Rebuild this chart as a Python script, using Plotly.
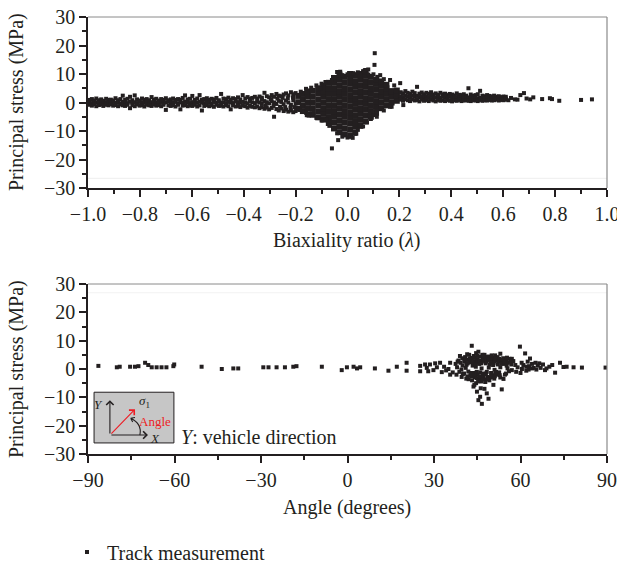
import plotly.graph_objects as go

# ================= TOP PANEL: principal stress vs biaxiality ratio =================
# dense band on the left (lambda -1.0 .. -0.2): three rows of points
lam_band = [-0.995, -0.985, -0.976, -0.968, -0.958, -0.949, -0.941, -0.930, -0.921, -0.912,
            -0.903, -0.894, -0.884, -0.875, -0.866, -0.857, -0.848, -0.838, -0.829, -0.820,
            -0.811, -0.801, -0.792, -0.783, -0.774, -0.764, -0.755, -0.746, -0.737, -0.727,
            -0.718, -0.709, -0.700, -0.690, -0.681, -0.672, -0.663, -0.653, -0.644, -0.635,
            -0.626, -0.616, -0.607, -0.598, -0.589, -0.579, -0.570, -0.561, -0.552, -0.542,
            -0.533, -0.524, -0.515, -0.505, -0.496, -0.487, -0.478, -0.468, -0.459, -0.450,
            -0.441, -0.431, -0.422, -0.413, -0.404, -0.394, -0.385, -0.376, -0.367, -0.357,
            -0.348, -0.339, -0.330, -0.320, -0.311, -0.302, -0.292, -0.283, -0.274, -0.265,
            -0.255, -0.246, -0.237, -0.228, -0.218, -0.209, -0.200]
sig_band_hi = [0.9, 1.2, 0.7, 1.4, 0.8, 1.1, 0.6, 1.3, 0.9, 1.0,
               0.7, 1.5, 0.8, 1.2, 2.4, 0.9, 1.3, 2.0, 0.8, 2.5,
               1.1, 0.7, 1.4, 0.9, 1.2, 0.8, 1.9, 1.0, 1.3, 0.7,
               1.2, 0.9, 1.5, 0.8, 1.1, 1.4, 0.9, 1.2, 1.0, 1.6,
               2.5, 1.1, 1.3, 2.3, 0.9, 1.4, 2.6, 1.0, 1.2, 1.5,
               0.9, 1.3, 1.1, 1.6, 0.8, 3.0, 1.4, 1.2, 1.7, 1.0,
               1.5, 1.2, 1.8, 1.1, 2.6, 1.4, 1.9, 1.3, 1.6, 2.0,
               1.4, 2.1, 1.7, 3.4, 2.2, 1.8, 2.6, 2.0, 3.0, 2.4,
               2.2, 2.8, 3.2, 2.5, 3.6, 2.9, 3.3]
sig_band_mid = [0.1, -0.2, 0.3, 0.0, -0.1, 0.2, -0.3, 0.1, 0.0, -0.2,
                0.2, -0.1, 0.1, -0.3, 0.2, 0.0, -0.2, 0.3, -0.1, 0.1,
                -0.2, 0.2, 0.0, -0.1, 0.3, -0.3, 0.1, 0.2, -0.1, 0.0,
                0.2, -0.2, 0.1, 0.3, -0.1, 0.0, 0.2, -0.3, 0.1, -0.1,
                0.3, 0.0, -0.2, 0.1, 0.2, -0.1, 0.3, 0.0, -0.2, 0.2,
                0.1, -0.3, 0.2, 0.0, 0.3, -0.1, 0.1, -0.2, 0.2, 0.0,
                -0.2, 0.3, 0.1, -0.1, 0.2, 0.0, -0.3, 0.4, 0.1, -0.2,
                0.3, 0.0, -0.4, 0.5, 0.1, -0.3, 0.4, 0.0, -0.5, 0.6,
                0.2, -0.6, 0.7, 0.0, -0.8, 0.8, -0.4]
sig_band_lo = [-0.8, -1.1, -0.6, -1.3, -0.9, -0.7, -1.2, -0.8, -1.0, -0.6,
               -1.1, -0.9, -1.3, -0.7, -1.0, -1.2, -0.8, -2.0, -0.9, -1.3,
               -0.7, -1.1, -0.9, -1.4, -0.8, -1.0, -1.2, -0.7, -1.1, -0.9,
               -1.3, -0.8, -2.6, -1.0, -1.2, -0.9, -1.4, -0.8, -2.4, -1.1,
               -0.9, -1.3, -1.0, -1.2, -0.8, -1.4, -1.0, -2.8, -1.2, -0.9,
               -1.3, -1.0, -1.5, -0.8, -1.2, -1.1, -1.4, -0.9, -1.3, -2.4,
               -1.0, -1.4, -1.2, -1.6, -1.1, -1.3, -1.8, -1.2, -1.5, -1.7,
               -1.4, -2.0, -1.6, -2.2, -1.8, -2.4, -1.9, -5.0, -2.3, -2.8,
               -2.1, -3.0, -2.5, -3.2, -2.8, -3.4, -3.0]
lam_fill = [-0.330, -0.315, -0.295, -0.285, -0.270, -0.260, -0.250, -0.240, -0.230, -0.220, -0.210, -0.205]
sig_fill = [1.0, -1.0, 1.2, -1.2, 1.4, -1.5, 1.6, -1.6, 1.5, -1.8, 1.7, -1.6]

# central dense cloud (lambda -0.2 .. 0.2), read column by column
core_lam = [-0.190, -0.172, -0.153, -0.134, -0.113, -0.093, -0.072, -0.052, -0.031, -0.011,
            0.010, 0.030, 0.050, 0.070, 0.090, 0.110, 0.130, 0.150, 0.170, 0.190]
core_sig = [[-2.2, 0.1, 2.3],
            [-3.0, -1.0, 1.1, 3.0],
            [-4.1, -2.0, 0.0, 2.1, 3.9],
            [-4.3, -2.2, -0.1, 2.0, 4.1],
            [-5.2, -3.1, -1.0, 1.0, 3.1, 5.0],
            [-6.0, -4.0, -2.0, 0.0, 2.0, 4.0, 5.8],
            [-7.2, -5.1, -3.0, -1.0, 1.0, 3.0, 5.0, 6.9],
            [-9.1, -7.0, -5.0, -3.0, -1.0, 1.0, 3.0, 5.0, 7.0, 8.6],
            [-10.4, -8.3, -6.2, -4.1, -2.0, 0.0, 2.0, 4.0, 6.0, 8.0, 9.8],
            [-11.2, -9.1, -7.0, -5.0, -3.0, -1.0, 1.0, 3.0, 5.0, 7.0, 9.0],
            [-11.6, -9.5, -7.4, -5.4, -3.4, -1.4, 0.6, 2.6, 4.6, 6.6, 8.6, 10.0],
            [-10.6, -8.5, -6.5, -4.5, -2.5, -0.5, 1.5, 3.5, 5.5, 7.5, 9.6],
            [-8.2, -6.1, -4.0, -2.0, 0.0, 2.0, 4.0, 6.0, 8.0, 10.0],
            [-6.6, -4.5, -2.5, -0.5, 1.5, 3.5, 5.5, 7.5, 9.5, 10.8],
            [-5.0, -3.0, -1.0, 1.0, 3.0, 5.0, 7.0, 9.0],
            [-3.6, -1.5, 0.5, 2.5, 4.5, 6.5, 8.0],
            [-2.0, 0.0, 2.0, 4.0, 6.0, 7.4],
            [-1.0, 1.0, 3.0, 5.0, 6.2],
            [0.0, 2.0, 4.0],
            [0.6, 2.6, 4.2]]

# ragged edge and outliers of the central cloud
lam_edge = [-0.18, -0.16, -0.14, -0.12, -0.105, -0.10, -0.085, -0.06, -0.05, -0.04,
            -0.028, -0.02, 0.0, 0.022, 0.04, 0.06, 0.068, 0.08, 0.105, 0.104,
            0.10, 0.115, 0.126, 0.14, 0.164, 0.18, 0.203, 0.08,
            -0.183, -0.16, -0.132, -0.12, -0.10, -0.08, -0.07, -0.055, -0.04, -0.06,
            -0.036, -0.02, 0.0, 0.01, 0.02, 0.03, 0.04, 0.049, 0.06, 0.075,
            0.09, 0.10, 0.113, 0.126, 0.14, 0.17, 0.164, 0.215, 0.11, -0.15]
sig_edge = [3.8, 4.8, 5.2, 6.0, 5.0, 6.6, 7.2, 7.9, 8.8, 10.7,
            10.8, 9.6, 9.9, 10.3, 10.6, 11.0, 11.4, 11.6, 17.3, 13.2,
            9.9, 9.0, 9.6, 8.2, 7.9, 6.0, 6.8, 9.8,
            -2.6, -3.6, -3.7, -5.4, -6.3, -6.1, -8.2, -9.0, -10.8, -16.1,
            -13.2, -12.0, -12.3, -12.0, -12.4, -11.0, -9.6, -7.9, -8.4, -7.0,
            -5.8, -4.4, -5.0, -2.0, -2.8, -1.5, -1.5, -0.9, -3.0, -4.6]

# right tail (lambda 0.2 .. 0.62): three rows
lam_tail = [0.205, 0.214, 0.223, 0.232, 0.241, 0.250, 0.259, 0.268, 0.277, 0.286,
            0.295, 0.304, 0.313, 0.322, 0.331, 0.340, 0.349, 0.358, 0.367, 0.376,
            0.385, 0.394, 0.403, 0.412, 0.421, 0.430, 0.439, 0.448, 0.457, 0.466,
            0.475, 0.484, 0.493, 0.502, 0.511, 0.520, 0.529, 0.538, 0.547, 0.556,
            0.565, 0.574, 0.583, 0.592, 0.601, 0.610]
sig_tail_hi = [3.6, 3.2, 4.0, 3.4, 3.0, 3.8, 3.3, 5.5, 3.1, 3.5,
               2.9, 3.4, 3.0, 3.6, 2.8, 3.2, 2.7, 3.4, 2.9, 3.1,
               2.6, 3.0, 2.8, 2.5, 3.2, 2.7, 2.6, 2.9, 2.4, 5.0,
               2.8, 2.3, 2.6, 2.9, 4.1, 2.4, 2.2, 2.6, 2.3, 2.1,
               2.4, 2.0, 2.2, 1.9, 2.1, 2.0]
sig_tail_mid = [2.2, 1.9, 2.5, 2.1, 1.8, 2.4, 2.0, 2.3, 1.9, 2.2,
                1.8, 2.1, 1.7, 2.3, 1.9, 1.8, 2.0, 1.7, 2.1, 1.9,
                1.7, 2.0, 1.6, 1.8, 1.9, 1.7, 1.5, 1.9, 1.6, 1.8,
                1.6, 1.5, 1.7, 1.4, 1.6, 1.5, 1.4, 1.6, 1.5, 1.3,
                1.5, 1.4, 1.6, 1.3, 1.5, 1.4]
sig_tail_lo = [1.0, 0.6, 1.2, 0.8, 0.5, 1.1, 0.7, 0.9, 0.4, 1.0,
               0.6, 0.9, 0.5, 1.0, 0.7, 0.4, 0.9, 0.6, 0.8, 0.5,
               0.9, 0.6, 0.4, 0.8, 0.6, 0.9, 0.5, 0.7, 0.8, 0.6,
               0.5, 0.8, 0.7, 0.5, 0.9, 0.6, 0.8, 0.7, 0.9, 0.7,
               0.8, 1.0, 0.7, 0.9, 0.8, 1.0]
lam_far = [0.62, 0.63, 0.645, 0.655, 0.666, 0.68, 0.69, 0.704, 0.716, 0.75, 0.78, 0.788, 0.816, 0.90, 0.942]
sig_far = [0.8, 1.6, 1.1, 1.0, 2.6, 3.3, 1.4, 1.1, 1.8, 1.2, 1.5, 1.2, 0.6, 0.9, 1.1]

# ================= BOTTOM PANEL: principal stress vs angle =================
ang_left = [-86.4, -80.0, -79.0, -75.4, -73.7, -72.5, -70.2, -69.1, -67.9, -66.2,
            -64.5, -62.8, -60.4, -60.1, -50.6, -43.6, -39.6, -37.9, -29.2, -27.4,
            -24.6, -21.7, -18.8, -17.7, -8.9, -2.0, -0.2, 2.1, 3.3, 4.4,
            9.5, 14.2, 17.1, 20.5, 20.5]
sig_left = [1.1, 0.6, 0.8, 0.8, 0.8, 1.0, 2.2, 1.4, 0.6, 0.6,
            0.6, 0.6, 1.0, 1.6, 0.8, 0.0, 0.2, 0.2, 0.6, 0.6,
            0.6, 0.6, 0.8, 1.0, 0.8, -0.4, 0.6, 0.8, 0.2, 0.6,
            0.2, -0.6, 0.8, 2.2, -0.6]
ang_near = [25.2, 25.2, 26.9, 27.5, 28.0, 28.6, 29.8, 30.4, 31.0, 32.1, 32.7, 33.5, 34.2, 35.0, 35.6, 35.6]
sig_near = [1.1, -0.8, 1.6, 0.4, -0.8, 1.6, -0.4, 2.0, 0.6, 2.2, -1.1, 0.8, -0.5, 0.0, 2.2, -2.0]
ang_blob_up = [37.5, 38.5, 39.2, 39.8, 40.5, 40.8, 41.3, 41.8, 42.2, 42.5,
               43.0, 43.1, 43.4, 43.8, 44.1, 44.6, 45.0, 45.4, 45.7, 46.1,
               46.6, 47.0, 47.5, 47.9, 48.4, 48.8, 49.3, 49.8, 50.2, 50.7,
               51.2, 51.6, 52.1, 52.6, 53.0, 53.5, 54.0, 54.5, 55.0, 55.6,
               56.2, 56.8, 57.5, 58.2,
               39.0, 41.5, 42.8, 44.0, 45.2, 46.8, 47.2, 48.0, 49.5, 50.0,
               51.0, 52.0, 53.8, 55.3, 56.5, 57.0]
sig_blob_up = [1.8, 3.0, 2.2, 3.8, 2.6, 4.2, 1.5, 3.2, 5.0, 2.4,
               3.9, 8.2, 1.2, 4.6, 2.8, 5.6, 3.4, 6.1, 1.8, 4.4,
               2.6, 3.6, 5.0, 2.0, 3.2, 4.4, 1.6, 2.8, 3.9, 2.2,
               4.8, 3.0, 1.6, 3.6, 5.4, 2.5, 3.8, 1.8, 3.0, 2.2,
               3.6, 1.6, 2.8, 1.4,
               4.6, 5.2, 3.0, 4.0, 2.2, 5.0, 3.0, 4.2, 3.6, 4.8,
               2.8, 4.2, 3.2, 4.0, 2.6, 3.6]
ang_blob_mid = [38.0, 39.5, 41.0, 44.5, 46.5, 49.0, 51.0, 53.0, 55.5, 57.0, 59.0, 60.5, 62.0, 64.0]
sig_blob_mid = [0.6, -0.2, 0.4, 0.8, 0.2, 0.5, -0.3, 0.6, 0.2, -0.4, 0.6, 0.0, 0.8, 0.2]
ang_blob_lo = [36.5, 37.8, 38.8, 39.6, 40.4, 41.2, 41.9, 42.6, 43.2, 43.7,
               44.2, 44.6, 45.1, 45.6, 46.0, 46.5, 47.0, 47.5, 48.0, 48.6,
               49.2, 49.8, 50.4, 50.9, 51.5, 52.2, 53.0, 54.1, 55.0, 56.0,
               42.0, 43.0, 44.8, 45.3, 46.8, 47.8, 48.3, 49.5, 50.0, 51.2, 52.6]
sig_blob_lo = [-1.2, -2.0, -1.0, -2.8, -1.6, -3.4, -0.9, -2.2, -4.0, -1.4,
               -3.0, -5.0, -2.0, -3.8, -1.2, -4.4, -2.6, -3.6, -1.6, -2.8,
               -4.0, -1.4, -2.4, -3.4, -1.0, -2.0, -3.0, -3.5, -1.6, -0.8,
               -3.6, -2.6, -1.0, -4.4, -3.6, -4.6, -1.0, -3.0, -2.2, -1.8, -1.2]
ang_blob_fill = [38.2, 39.9, 40.9, 41.7, 42.4, 43.3, 44.3, 45.0, 45.8, 46.3,
                 47.3, 48.2, 48.9, 49.7, 50.5, 51.4, 52.4, 53.3, 54.3, 55.2,
                 40.0, 41.6, 42.9, 43.9, 44.9, 45.9, 46.9, 47.7, 48.7, 49.9,
                 51.1, 52.8, 54.6]
sig_blob_fill = [2.6, 1.2, 3.4, 2.0, 3.6, 2.4, 1.6, 4.6, 3.0, 2.0,
                 4.6, 2.6, 3.4, 2.2, 1.4, 3.6, 2.8, 1.8, 2.4, 1.2,
                 -1.8, -2.6, -1.4, -2.2, -3.2, -2.6, -1.6, -2.0, -3.6, -2.8,
                 -2.6, -2.2, -2.0]
ang_drop = [43.7, 44.0, 44.9, 46.0, 45.4, 46.6, 48.3, 48.9, 47.5, 50.6, 53.5, 46.2]
sig_drop = [-6.2, -5.6, -8.0, -9.8, -11.0, -12.3, -8.6, -10.5, -7.0, -5.6, -7.2, -6.8]
ang_right = [58.5, 59.8, 60.0, 60.4, 61.6, 62.0, 62.5, 63.3, 64.0, 65.2,
             65.5, 66.0, 67.0, 68.5, 70.0, 72.0, 73.7, 74.9, 76.0, 78.4,
             81.3, 89.5, 63.0, 64.6, 66.5, 67.8, 69.0, 71.0, 61.0, 62.8]
sig_right = [-1.0, 7.9, -1.4, 2.2, 5.5, -0.6, 2.6, 3.7, 1.8, 2.2,
             -0.2, 1.2, 0.4, -0.4, 0.8, -1.3, 2.2, 0.7, 0.8, 0.6,
             0.5, 0.5, 1.0, 0.4, 2.0, 1.6, 0.2, 1.4, 1.4, -0.2]

# axis ticks
lam_ticks = [-1.0, -0.8, -0.6, -0.4, -0.2, 0.0, 0.2, 0.4, 0.6, 0.8, 1.0]
ang_ticks = [-90, -60, -30, 0, 30, 60, 90]
sig_ticks = [-30, -20, -10, 0, 10, 20, 30]

# ---------------------------------------------------------------------------
INK = "#231f20"
RED = "#ed1c24"
FONT = "Liberation Serif"

top_x = lam_band * 3 + lam_fill + lam_edge + lam_tail * 3 + lam_far
top_y = sig_band_hi + sig_band_mid + sig_band_lo + sig_fill + sig_edge + sig_tail_hi + sig_tail_mid + sig_tail_lo + sig_far
core_x = [lx for lx, col in zip(core_lam, core_sig) for _ in col]
core_y = [s for col in core_sig for s in col]

bot_x = ang_left + ang_near + ang_blob_up + ang_blob_mid + ang_blob_lo + ang_blob_fill + ang_drop + ang_right
bot_y = sig_left + sig_near + sig_blob_up + sig_blob_mid + sig_blob_lo + sig_blob_fill + sig_drop + sig_right

fig = go.Figure()
fig.add_trace(go.Scatter(x=core_x, y=core_y, mode="markers", xaxis="x", yaxis="y",
                         marker=dict(symbol="square", size=6, color=INK), showlegend=False,
                         legendgroup="m", hoverinfo="skip"))
fig.add_trace(go.Scatter(x=top_x, y=top_y, mode="markers", xaxis="x", yaxis="y",
                         name="Track measurement", legendgroup="m",
                         marker=dict(symbol="square", size=4, color=INK)))
fig.add_trace(go.Scatter(x=bot_x, y=bot_y, mode="markers", xaxis="x2", yaxis="y2",
                         showlegend=False, legendgroup="m",
                         marker=dict(symbol="square", size=4, color=INK)))

W, H = 617, 565
def px(v): return v / W
def py(v): return 1 - v / H

axis_common = dict(showgrid=False, zeroline=False, showline=True, linecolor=INK, linewidth=1.6,
                   ticks="outside", ticklen=7, tickwidth=1.6, tickcolor=INK, automargin=False,
                   ticklabeloverflow="allow",
                   tickfont=dict(family=FONT, size=20, color=INK))
minor_common = dict(ticks="outside", ticklen=4, tickwidth=1.6, tickcolor=INK, tick0=0)

fig.update_layout(
    width=W, height=H, margin=dict(l=0, r=0, t=0, b=0, autoexpand=False),
    paper_bgcolor="white", plot_bgcolor="white",
    font=dict(family=FONT, color=INK),
    xaxis=dict(domain=[px(88), px(607)], range=[-1, 1], anchor="y", tickvals=lam_ticks,
               tickformat=".1f", minor=dict(dtick=0.1, **minor_common), **axis_common),
    yaxis=dict(domain=[py(188), py(17)], range=[-30, 30], anchor="x", tickvals=sig_ticks,
               minor=dict(dtick=5, **minor_common), **axis_common),
    xaxis2=dict(domain=[px(88), px(607)], range=[-90, 90], anchor="y2", tickvals=ang_ticks,
                minor=dict(dtick=15, **minor_common), **axis_common),
    yaxis2=dict(domain=[py(454), py(284)], range=[-30, 30], anchor="x2", tickvals=sig_ticks,
                minor=dict(dtick=5, **minor_common), **axis_common),
    showlegend=True,
    legend=dict(x=px(67), y=py(552), xanchor="left", yanchor="middle", orientation="h",
                font=dict(family=FONT, size=20, color=INK), bgcolor="rgba(0,0,0,0)",
                itemwidth=30),
)

shapes = []
for xr, yr in (("x domain", "y domain"), ("x2 domain", "y2 domain")):
    shapes.append(dict(type="line", xref=xr, yref=yr, x0=0, x1=1, y0=1, y1=1,
                       line=dict(color="#8a8a8a", width=1)))
    shapes.append(dict(type="line", xref=xr, yref=yr, x0=1, x1=1, y0=0, y1=1,
                       line=dict(color="#8a8a8a", width=1.2)))
# faint scan lines
shapes.append(dict(type="line", xref="x domain", yref="y", x0=0, x1=1, y0=-26.6, y1=-26.6,
                   line=dict(color="#eeeeee", width=1), layer="below"))
shapes.append(dict(type="line", xref="x2 domain", yref="y2", x0=0, x1=1, y0=26.9, y1=26.9,
                   line=dict(color="#f2f2f2", width=1), layer="below"))
# inset box
shapes.append(dict(type="rect", xref="x2", yref="y2", x0=-87.9, x1=-60.2, y0=-26.1, y1=-8.2,
                   fillcolor="#c6c6c6", line=dict(color=INK, width=1)))
# angle arc with arrow head
shapes.append(dict(type="path", xref="x2", yref="y2",
                   path="M -72.0,-23.3 Q -71.2,-19.3 -75.2,-17.4 M -75.2,-17.4 L -73.7,-17.1 M -75.2,-17.4 L -74.5,-18.7",
                   line=dict(color=INK, width=1.1)))

ann = []
# axis titles
for yc in (102, 369):
    ann.append(dict(text="Principal stress (MPa)", x=px(17), y=py(yc), xref="paper", yref="paper",
                    xanchor="center", yanchor="middle",
                    textangle=-90, showarrow=False, font=dict(size=20, family=FONT, color=INK)))
ann.append(dict(text="Biaxiality ratio (<i>λ</i>)", x=px(347), y=py(240), xref="paper", yref="paper",
                xanchor="center", yanchor="middle",
                showarrow=False, font=dict(size=20, family=FONT, color=INK)))
ann.append(dict(text="Angle (degrees)", x=px(347), y=py(507), xref="paper", yref="paper",
                xanchor="center", yanchor="middle",
                showarrow=False, font=dict(size=20, family=FONT, color=INK)))
ann.append(dict(text="<i>Y</i>: vehicle direction", x=-58.3, y=-24.0, xref="x2", yref="y2",
                xanchor="left", yanchor="middle", showarrow=False, font=dict(size=20, family=FONT, color=INK)))
# inset arrows
for hx, hy, col in ((-82.4, -11.0, INK), (-69.2, -23.3, INK), (-73.7, -14.2, RED)):
    ann.append(dict(x=hx, y=hy, ax=-82.4, ay=-23.3, xref="x2", yref="y2", axref="x2", ayref="y2",
                    text="", showarrow=True, arrowhead=4, arrowsize=1.3, arrowwidth=1.1, arrowcolor=col))
ann.append(dict(text="<i>Y</i>", x=-86.4, y=-12.7, xref="x2", yref="y2", showarrow=False,
                xanchor="center", yanchor="middle", font=dict(size=13, family=FONT, color=INK)))
ann.append(dict(text="<i>X</i>", x=-66.9, y=-24.4, xref="x2", yref="y2", showarrow=False,
                xanchor="center", yanchor="middle", font=dict(size=13, family=FONT, color=INK)))
ann.append(dict(text="<i>σ</i><sub>1</sub>", x=-70.4, y=-11.6, xref="x2", yref="y2", showarrow=False,
                xanchor="center", yanchor="middle", font=dict(size=13, family=FONT, color=INK)))
ann.append(dict(text="Angle", x=-66.8, y=-18.4, xref="x2", yref="y2", showarrow=False,
                xanchor="center", yanchor="middle", font=dict(size=13, family=FONT, color=RED)))

fig.update_layout(shapes=shapes, annotations=ann)
fig.write_html("out.html")
